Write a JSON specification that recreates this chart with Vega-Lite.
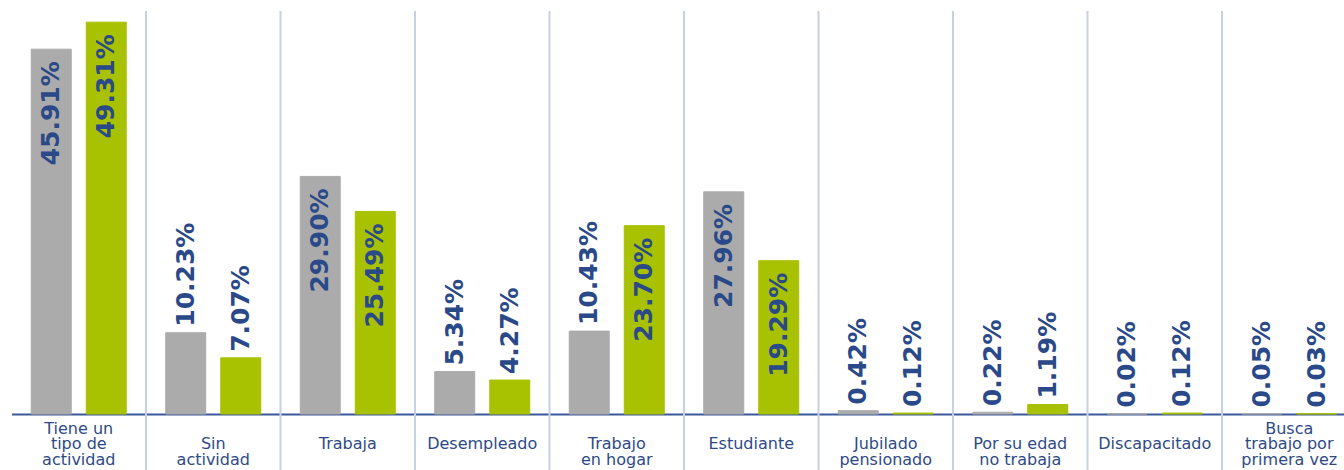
{
  "$schema": "https://vega.github.io/schema/vega-lite/v6.json",
  "autosize": "none",
  "width": 1332.5,
  "height": 414,
  "padding": {"left": 11.5, "top": 0, "right": 0, "bottom": 56},
  "background": "white",
  "config": {"view": {"stroke": null}},
  "data": {"values": [
    {"cat": "Tiene un|tipo de|actividad", "serie": "A", "value": 45.91},
    {"cat": "Tiene un|tipo de|actividad", "serie": "B", "value": 49.31},
    {"cat": "Sin|actividad", "serie": "A", "value": 10.23},
    {"cat": "Sin|actividad", "serie": "B", "value": 7.07},
    {"cat": "Trabaja", "serie": "A", "value": 29.90},
    {"cat": "Trabaja", "serie": "B", "value": 25.49},
    {"cat": "Desempleado", "serie": "A", "value": 5.34},
    {"cat": "Desempleado", "serie": "B", "value": 4.27},
    {"cat": "Trabajo|en hogar", "serie": "A", "value": 10.43},
    {"cat": "Trabajo|en hogar", "serie": "B", "value": 23.70},
    {"cat": "Estudiante", "serie": "A", "value": 27.96},
    {"cat": "Estudiante", "serie": "B", "value": 19.29},
    {"cat": "Jubilado|pensionado", "serie": "A", "value": 0.42},
    {"cat": "Jubilado|pensionado", "serie": "B", "value": 0.12},
    {"cat": "Por su edad|no trabaja", "serie": "A", "value": 0.22},
    {"cat": "Por su edad|no trabaja", "serie": "B", "value": 1.19},
    {"cat": "Discapacitado", "serie": "A", "value": 0.02},
    {"cat": "Discapacitado", "serie": "B", "value": 0.12},
    {"cat": "Busca|trabajo por|primera vez", "serie": "A", "value": 0.05},
    {"cat": "Busca|trabajo por|primera vez", "serie": "B", "value": 0.03}
  ]},
  "transform": [{"calculate": "format(datum.value, '.2f') + '%'", "as": "label"}],
  "encoding": {
    "x": {
      "field": "cat", "type": "nominal", "sort": null,
      "scale": {
        "domain": ["Tiene un|tipo de|actividad", "Sin|actividad", "Trabaja", "Desempleado", "Trabajo|en hogar", "Estudiante", "Jubilado|pensionado", "Por su edad|no trabaja", "Discapacitado", "Busca|trabajo por|primera vez"],
        "range": [0, 1345], "paddingInner": 0, "paddingOuter": 0
      },
      "axis": {
        "title": null, "labelAngle": 0, "ticks": false, "grid": false,
        "domainColor": "#3A589A", "domainWidth": 2,
        "labelFont": "DejaVu Sans", "labelFontSize": 16, "labelColor": "#2E4A86",
        "labelLineHeight": 15.5, "labelPadding": 6, "labelBaseline": "top",
        "labelLimit": 300, "labelOverlap": false,
        "labelExpr": "split((length(split(datum.label,'|'))==1 ? '||' : (length(split(datum.label,'|'))==2 ? '|' : '')) + datum.label, '|')"
      }
    },
    "y": {
      "field": "value", "type": "quantitative",
      "scale": {"domain": [0, 52.1], "nice": false, "zero": true},
      "axis": null
    }
  },
  "layer": [
    {
      "transform": [{"filter": "datum.serie == 'A' && datum.cat != 'Tiene un|tipo de|actividad'"}],
      "mark": {"type": "rule", "color": "#C9D0E2", "strokeWidth": 2},
      "encoding": {
        "x": {"field": "cat", "type": "nominal", "sort": null, "bandPosition": 0},
        "y": {"datum": 50.7},
        "y2": {"datum": -7.2}
      }
    },
    {
      "mark": {"type": "bar", "strokeWidth": 1},
      "encoding": {
        "xOffset": {"field": "serie", "type": "nominal", "scale": {"paddingInner": 0.273, "paddingOuter": 0.359}},
        "color": {"field": "serie", "type": "nominal", "scale": {"domain": ["A", "B"], "range": ["#ABABAB", "#A8C100"]}, "legend": null},
        "stroke": {"field": "serie", "type": "nominal", "scale": {"domain": ["A", "B"], "range": ["#ABABAB", "#A8C100"]}, "legend": null}
      }
    },
    {
      "transform": [{"filter": "datum.value >= 15"}],
      "mark": {"type": "text", "angle": 270, "align": "right", "baseline": "middle", "dx": -12, "font": "DejaVu Sans", "fontWeight": "bold", "fontSize": 25, "color": "#2A4989"},
      "encoding": {
        "xOffset": {"field": "serie", "type": "nominal", "scale": {"paddingInner": 0.273, "paddingOuter": 0.359}},
        "text": {"field": "label", "type": "nominal"}
      }
    },
    {
      "transform": [{"filter": "datum.value < 15"}],
      "mark": {"type": "text", "angle": 270, "align": "left", "baseline": "middle", "dx": 6, "font": "DejaVu Sans", "fontWeight": "bold", "fontSize": 25, "color": "#2A4989"},
      "encoding": {
        "xOffset": {"field": "serie", "type": "nominal", "scale": {"paddingInner": 0.273, "paddingOuter": 0.359}},
        "text": {"field": "label", "type": "nominal"}
      }
    }
  ]
}
